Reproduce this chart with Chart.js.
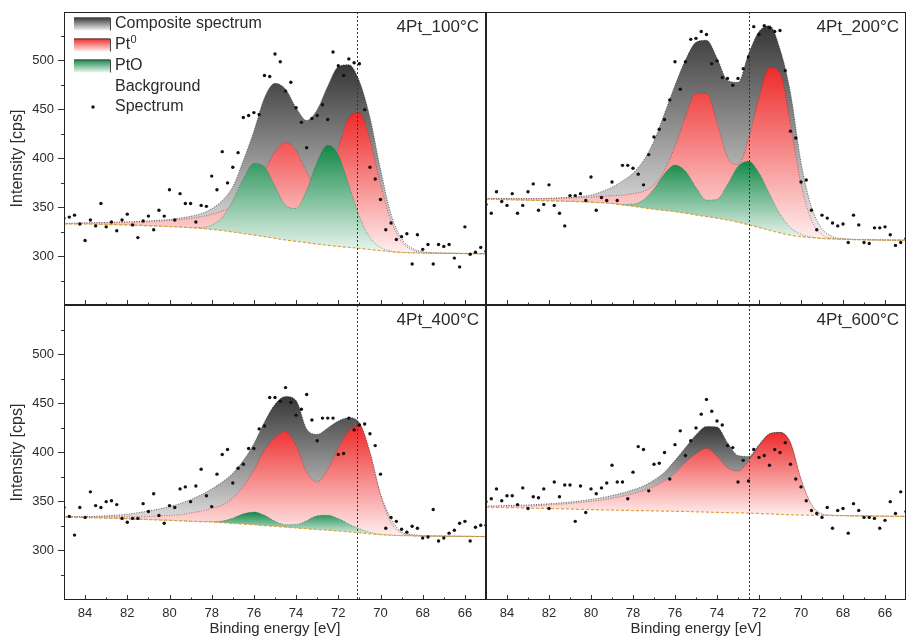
<!DOCTYPE html>
<html>
<head>
<meta charset="utf-8">
<script src="https://cdn.jsdelivr.net/npm/chart.js@4.4.1/dist/chart.umd.min.js"></script>
<style>
  body { margin: 0; background: #fff; }
  #wrap { position: relative; width: 906px; height: 639px; overflow: hidden; background: #fff; }
  canvas { position: absolute; }
</style>
</head>
<body>
<div id="wrap">
  <canvas id="c100" width="486" height="305" style="left:0;top:0"></canvas>
  <canvas id="c200" width="420" height="305" style="left:486px;top:0"></canvas>
  <canvas id="c400" width="486" height="334" style="left:0;top:305px"></canvas>
  <canvas id="c600" width="420" height="334" style="left:486px;top:305px"></canvas>
</div>
<script>
// ----------------------
// Data
// ----------------------
const curveE = [85,84.5,84,83.5,83,82.5,82,81.5,81,80.5,80,79.5,79,78.5,78,77.5,77,76.5,76,75.5,75,
  74.5,74,73.5,73,72.5,72,71.5,71,70.5,70,69.5,69,68.5,68,67.5,67,66.5,66,65.5,65];

const dotE = [85,84.75,84.5,84.25,84,83.75,83.5,83.25,83,82.75,82.5,82.25,82,81.75,81.5,81.25,81,80.75,80.5,80.25,80,
  79.75,79.5,79.25,79,78.75,78.5,78.25,78,77.75,77.5,77.25,77,76.75,76.5,76.25,76,75.75,75.5,75.25,75,
  74.75,74.5,74.25,74,73.75,73.5,73.25,73,72.75,72.5,72.25,72,71.75,71.5,71.25,71,70.75,70.5,70.25,70,
  69.75,69.5,69.25,69,68.75,68.5,68.25,68,67.75,67.5,67.25,67,66.75,66.5,66.25,66,65.75,65.5,65.25,65];

const xTickLabels = [84, 82, 80, 78, 76, 74, 72, 70, 68, 66];
const xMinorTicks = [83, 81, 79, 77, 75, 73, 71, 69, 67];
const yTickLabels = [300, 350, 400, 450, 500];
const yMinorTicks = [275, 325, 375, 425, 475, 525];

const panelNames = ["4Pt_100°C", "4Pt_200°C", "4Pt_400°C", "4Pt_600°C"];
const refLines = [71.1, 72.5, 71.1, 72.5];

// 4Pt_100°C
const bg100 = [333,333,333,332.8,332.5,332.2,332,331.6,331.2,330.8,330.3,329.8,329.2,328.4,327.5,326.2,324.8,323.2,321.6,320,318.3,
  316.6,315.2,313.8,312.5,311.2,310,309,308,306.8,305.6,304.5,303.8,303.4,303.2,303,302.9,302.8,302.7,302.6,302.5];
const pt0_100 = [333.5,333.7,334,334.1,334.2,334.4,334.8,335.1,335.5,336,336.6,337.5,338.7,340.4,343,346.2,350.8,358.2,369.6,387,407,
  416.6,408,386,372.5,381,411,442,447,418.8,373.6,336,314.8,306.4,303.8,303.2,303,302.8,302.7,302.6,302.5];
const pto100 = [333,333,333,332.8,332.5,332.2,332,331.6,331.2,330.8,330.3,329.8,329.2,329.4,331.8,339.8,356.8,379.2,394.9,391.4,371.6,
  351.8,348.9,367.4,396.5,413.6,403.7,372.8,340.3,319,309,305.2,303.9,303.4,303.2,303,302.9,302.8,302.7,302.6,302.5];
const comp100 = [333.5,333.7,334,334.2,334.4,334.7,335,335.5,336,336.8,337.5,339,340.8,343.5,348.5,357,371,398,428,462,477,
  471,452,439,450,474,494,496,479,442,389,343,318,308,304.5,303.5,303.2,303,302.8,302.6,302.5];
const spec100 = [339,340,342,333,316,337,331,354,330,335,326,337,343,332,319,336,341,327,347,341,368,
  337,364,354,354,335,352,351,382,368,407,375,391,406,442,444,447,445,485,484,507,
  499,469,478,452,437,411,441,444,455,440,509,495,485,502,498,497,450,391,379,358,
  327,334,317,320,323,292,322,307,312,292,312,310,312,298,289,330,302,304,309,305];

// 4Pt_200°C
const bg200 = [358.5,358.2,357.9,357.6,357.3,357,356.7,356.4,356.1,355.8,355.3,354.7,353.9,352.5,351,349.5,348,346.8,345.6,344,342.2,
  340.5,338.8,337,334.8,332.2,329.4,326.5,323.8,321.5,320,319,318.2,317.7,317.3,317,316.8,316.6,316.5,316.4,316.3];
const pt0_200 = [359,358.9,358.8,358.7,358.7,358.7,358.8,359.1,359.5,360,360.5,361.2,361.9,362.5,364,366.5,373,387.8,412.6,443,466.7,
  466.5,436.8,401,393.8,420.2,462.8,493.2,487.6,434.5,373.9,336.8,322.2,318.3,317.4,317,316.8,316.6,316.5,316.4,316.3];
const pto200 = [358.5,358.2,357.9,357.6,357.3,357,356.7,356.4,356.1,355.8,355.3,354.7,353.9,353,353.3,357.8,369.1,384.5,393.3,386.9,370.4,
  357.4,358.2,373.3,391.9,397.3,385.2,363.7,343.1,329.3,322.5,319.6,318.2,317.7,317.3,317,316.8,316.6,316.5,316.4,316.3];
const comp200 = [359.2,359.1,359,359,359,359.1,359.3,359.7,360.3,361.2,362.5,366,370.5,377,385,398,418,446,475,501,519,
  521,503,480,478,507,530,536,512,467,396,350,328,320,318,317.3,317,316.8,316.6,316.4,316.3];
const spec200 = [353,344,366,356,352,364,344,352,366,374,347,353,373,352,344,331,362,362,364,357,381,
  347,360,357,376,357,393,393,390,384,373,404,422,430,440,460,499,471,499,522,523,
  530,527,497,500,483,482,475,482,492,504,535,527,536,534,530,531,490,428,421,376,
  378,347,327,342,339,334,331,333,314,342,332,314,313,329,329,330,322,311,314,318];

// 4Pt_400°C
const bg400 = [334.3,334.1,333.9,333.6,333.3,333,332.6,332.2,331.8,331.4,331,330.6,330.1,329.7,329.3,328.6,327.9,327.2,326.5,325.7,324.9,
  324.1,323.3,322.5,321.7,321,320.2,319.3,318.4,317.4,316.5,315.9,315.5,315.3,315.1,315,314.9,314.8,314.7,314.6,314.5];
const pt0_400 = [334.6,334.6,334.6,334.6,334.6,334.6,334.6,334.7,334.8,335.4,336,336.8,338.5,340.4,343.1,346.6,353.8,365.6,382.3,402.4,415.3,
  421.4,407,379.8,370.2,382.7,404.5,422.3,427.1,399.9,356.6,328.4,318,315.6,315.1,315,314.9,314.8,314.7,314.6,314.5];
const pto400 = [334.3,334.1,333.9,333.6,333.3,333,332.6,332.2,331.8,331.4,331,330.6,330.1,329.7,329.7,330.4,333.2,337.6,339.5,336.1,330.2,
  326.6,326.8,330.7,335.6,336.2,332.8,327.3,322.4,318.9,316.9,315.9,315.5,315.3,315.1,315,314.9,314.8,314.7,314.6,314.5];
const comp400 = [334.8,334.8,334.9,335.1,335.6,336.3,337.2,338.8,340.5,342.5,345,348,352,357,363,370,379,392,409,431,449,
  457,453,424,418.5,425,432,435.4,430,400,358,332.7,319,316.5,315.4,315.1,315,314.8,314.7,314.6,314.5];
const spec400 = [344,335,316,344,334,360,346,344,350,351,347,333,329,333,333,348,340,358,336,328,346,
  344,363,365,350,366,383,356,345,378,398,403,369,384,388,404,404,424,427,456,456,
  452,466,451,438,444,459,433,412,435,435,435,398,399,435,423,428,429,419,407,378,
  323,334,330,322,319,325,323,313,314,342,310,313,318,321,328,330,310,324,326,326];

// 4Pt_600°C
const bg600 = [344.4,344.2,344,343.8,343.6,343.3,343.1,342.8,342.5,342.2,341.9,341.6,341.4,341.2,341,340.8,340.6,340.4,340.2,340,339.7,
  339.4,339.1,338.8,338.6,338.4,338,337.6,337.1,336.7,336.4,336.2,336,335.9,335.8,335.6,335.5,335.3,335.2,335.1,335];
const pt0_600 = [345.2,345.3,345.5,345.6,345.8,346.1,346.7,347.4,348.2,349.2,350.4,351.6,353.4,355.5,358,361.3,365.6,371.4,379.2,390,398.7,
  404.4,396.1,384.5,381.1,391.4,406.9,418.6,420.1,409.5,372.5,346.8,337.3,336.1,335.8,335.6,335.5,335.3,335.2,335.1,335];
const comp600 = [345.5,345.7,346,346.3,346.7,347.2,347.8,348.6,349.6,350.8,352.3,354,356.2,358.8,362,366,372,380,392,405,418,
  426.5,426,410,397,396,408,419,420.5,410,373,347,337.5,336.2,335.9,335.6,335.5,335.3,335.2,335.1,335];
const spec600 = [350,353,363,351,356,356,347,364,343,355,354,363,343,370,355,367,367,330,366,339,363,
  358,364,369,387,370,370,353,380,406,403,361,388,389,400,373,408,422,397,412,425,
  439,454,442,432,428,407,405,370,392,371,403,395,397,387,403,400,410,388,373,365,
  351,341,338,334,344,323,341,343,318,348,341,334,334,333,323,331,350,338,360,340];

// ----------------------
// Styling helpers
// ----------------------
const FONT = 'Arial, "Liberation Sans", sans-serif';
const INK = "#2b2b2b";

const grayStops = ["#363636", "#f4f4f4"];
const redStops = ["#ee2a2a", "#fff0f0"];
const greenStops = ["#128848", "#eef8f2"];

function pts(xs, ys) {
  return ys.map((y, i) => ({ x: xs[i], y: y }));
}

// vertical gradient from the curve's top value down to the lowest background value
function vGrad(chart, topVal, botVal, stops) {
  const { ctx, chartArea, scales } = chart;
  if (!chartArea) return stops[0];
  const y0 = scales.y.getPixelForValue(topVal);
  const y1 = scales.y.getPixelForValue(botVal);
  const g = ctx.createLinearGradient(0, y0, 0, y1);
  g.addColorStop(0, stops[0]);
  g.addColorStop(1, stops[1]);
  return g;
}

function drawLegend(ctx, a) {
  const bx = a.left + 10, tx = a.left + 51;
  const rows = [a.top + 12, a.top + 33, a.top + 54, a.top + 75, a.top + 95];
  const boxes = [grayStops, redStops, greenStops];
  boxes.forEach((st, i) => {
    const top = rows[i] - 6.5;
    const g = ctx.createLinearGradient(0, top, 0, top + 13);
    g.addColorStop(0, st[0]);
    g.addColorStop(1, st[1]);
    ctx.fillStyle = g;
    ctx.fillRect(bx, top, 36, 13);
    ctx.strokeStyle = "#444";
    ctx.lineWidth = 1;
    ctx.beginPath();
    ctx.moveTo(bx, top + 0.5);
    ctx.lineTo(bx + 36.5, top + 0.5);
    ctx.lineTo(bx + 36.5, top + 13);
    ctx.stroke();
  });
  ctx.fillStyle = INK;
  ctx.textAlign = "left";
  ctx.textBaseline = "middle";
  ctx.font = "16px " + FONT;
  ctx.fillText("Composite spectrum", tx, rows[0]);
  ctx.fillText("Pt", tx, rows[1]);
  const w = ctx.measureText("Pt").width;
  ctx.font = "11px " + FONT;
  ctx.fillText("0", tx + w + 0.5, rows[1] - 5);
  ctx.font = "16px " + FONT;
  ctx.fillText("PtO", tx, rows[2]);
  ctx.fillText("Background", tx, rows[3]);
  ctx.fillText("Spectrum", tx, rows[4]);
  ctx.fillStyle = "#111";
  ctx.beginPath();
  ctx.arc(bx + 19, rows[4], 1.7, 0, Math.PI * 2);
  ctx.fill();
}

// frame, inward x ticks, minor y ticks, reference line, panel name, legend
const panelDecor = {
  id: "panelDecor",
  afterDraw(chart, args, opts) {
    const { ctx, chartArea: a, scales } = chart;
    const x = scales.x, y = scales.y;
    ctx.save();

    const xr = Math.round(x.getPixelForValue(opts.refE)) + 0.5;
    ctx.strokeStyle = "#333";
    ctx.lineWidth = 1;
    ctx.setLineDash([2, 2]);
    ctx.beginPath();
    ctx.moveTo(xr, a.top);
    ctx.lineTo(xr, a.bottom);
    ctx.stroke();
    ctx.setLineDash([]);

    ctx.strokeStyle = "#333";
    ctx.beginPath();
    xTickLabels.forEach(v => {
      const px = Math.round(x.getPixelForValue(v)) + 0.5;
      ctx.moveTo(px, a.bottom);
      ctx.lineTo(px, a.bottom - 5);
    });
    xMinorTicks.forEach(v => {
      const px = Math.round(x.getPixelForValue(v)) + 0.5;
      ctx.moveTo(px, a.bottom);
      ctx.lineTo(px, a.bottom - 2.5);
    });
    if (opts.yAxis) {
      yMinorTicks.forEach(v => {
        const py = Math.round(y.getPixelForValue(v)) + 0.5;
        ctx.moveTo(a.left, py);
        ctx.lineTo(a.left - 3, py);
      });
    }
    ctx.stroke();

    ctx.strokeStyle = "#222";
    ctx.lineWidth = 1;
    ctx.strokeRect(a.left + 0.5, a.top + 0.5, a.width - 1, a.height - 1);

    ctx.fillStyle = INK;
    ctx.font = "17px " + FONT;
    ctx.textAlign = "right";
    ctx.textBaseline = "middle";
    ctx.fillText(opts.label, a.right - 7, a.top + 15);

    if (opts.legend) drawLegend(ctx, a);
    ctx.restore();
  }
};

// ----------------------
// Build one panel
// ----------------------
function makePanel(id, p) {
  const bgMin = Math.min(...p.bg);
  const curve = { pointRadius: 0, borderWidth: 1, borderDash: [1, 1.5], cubicInterpolationMode: "monotone", fill: 1 };

  const datasets = [
    { label: "Spectrum", data: pts(dotE, p.spec), showLine: false, pointRadius: 1.7,
      pointBackgroundColor: "#111", pointBorderWidth: 0, order: 0 },
    { label: "Background", data: pts(curveE, p.bg), borderColor: "#e0a23a", borderWidth: 1.2,
      borderDash: [3, 2], pointRadius: 0, fill: false, cubicInterpolationMode: "monotone", order: 1 }
  ];
  if (p.pto) {
    datasets.push(Object.assign({}, curve, {
      label: "PtO", data: pts(curveE, p.pto), borderColor: "rgba(20,90,50,0.55)", order: 2,
      backgroundColor: c => vGrad(c.chart, Math.max(...p.pto), bgMin, greenStops)
    }));
  }
  datasets.push(Object.assign({}, curve, {
    label: "Pt0", data: pts(curveE, p.pt0), borderColor: "rgba(150,30,30,0.55)", order: 3,
    backgroundColor: c => vGrad(c.chart, Math.max(...p.pt0), bgMin, redStops)
  }));
  datasets.push(Object.assign({}, curve, {
    label: "Composite spectrum", data: pts(curveE, p.comp), borderColor: "rgba(40,40,40,0.7)", order: 4,
    backgroundColor: c => vGrad(c.chart, Math.max(...p.comp), bgMin, grayStops)
  }));

  new Chart(document.getElementById(id), {
    type: "line",
    data: { datasets: datasets },
    options: {
      responsive: false,
      animation: false,
      devicePixelRatio: 1,
      layout: { autoPadding: false, padding: { top: p.padTop, left: 0, right: 0, bottom: 0 } },
      plugins: {
        legend: { display: false },
        tooltip: { enabled: false },
        panelDecor: { refE: p.refE, label: p.label, yAxis: p.yAxis, legend: p.legend }
      },
      scales: {
        x: {
          type: "linear", min: 65, max: 85, reverse: true, display: p.xAxis,
          afterBuildTicks: s => { s.ticks = xTickLabels.map(v => ({ value: v })); },
          afterFit: s => {
            s.height = p.xAxis ? 39 : 0;
            s.paddingLeft = 0; s.paddingRight = 0;
          },
          grid: { display: false, drawTicks: false },
          border: { display: false },
          ticks: { font: { family: FONT, size: 13 }, color: INK, padding: 6, maxRotation: 0, autoSkip: false },
          title: { display: true, text: "Binding energy [eV]", font: { family: FONT, size: 15 },
                   color: INK, padding: { top: 0, bottom: 1 } }
        },
        y: {
          min: 250, max: 550, display: p.yAxis,
          afterBuildTicks: s => { s.ticks = yTickLabels.map(v => ({ value: v })); },
          afterFit: s => {
            s.width = p.yAxis ? 64 : 0;
            s.paddingTop = 0; s.paddingBottom = 0;
          },
          grid: { drawOnChartArea: false, tickLength: 6, tickColor: "#333" },
          border: { display: false },
          ticks: { font: { family: FONT, size: 13 }, color: INK, padding: 4 },
          title: { display: true, text: "Intensity [cps]", font: { family: FONT, size: 16 },
                   color: INK, padding: { top: 8, bottom: 0 } }
        }
      }
    },
    plugins: [panelDecor]
  });
}

makePanel("c100", { bg: bg100, pt0: pt0_100, pto: pto100, comp: comp100, spec: spec100,
  refE: refLines[0], label: panelNames[0], yAxis: true, xAxis: false, legend: true, padTop: 12 });
makePanel("c200", { bg: bg200, pt0: pt0_200, pto: pto200, comp: comp200, spec: spec200,
  refE: refLines[1], label: panelNames[1], yAxis: false, xAxis: false, legend: false, padTop: 12 });
makePanel("c400", { bg: bg400, pt0: pt0_400, pto: pto400, comp: comp400, spec: spec400,
  refE: refLines[2], label: panelNames[2], yAxis: true, xAxis: true, legend: false, padTop: 0 });
makePanel("c600", { bg: bg600, pt0: pt0_600, pto: null, comp: comp600, spec: spec600,
  refE: refLines[3], label: panelNames[3], yAxis: false, xAxis: true, legend: false, padTop: 0 });
</script>
</body>
</html>
